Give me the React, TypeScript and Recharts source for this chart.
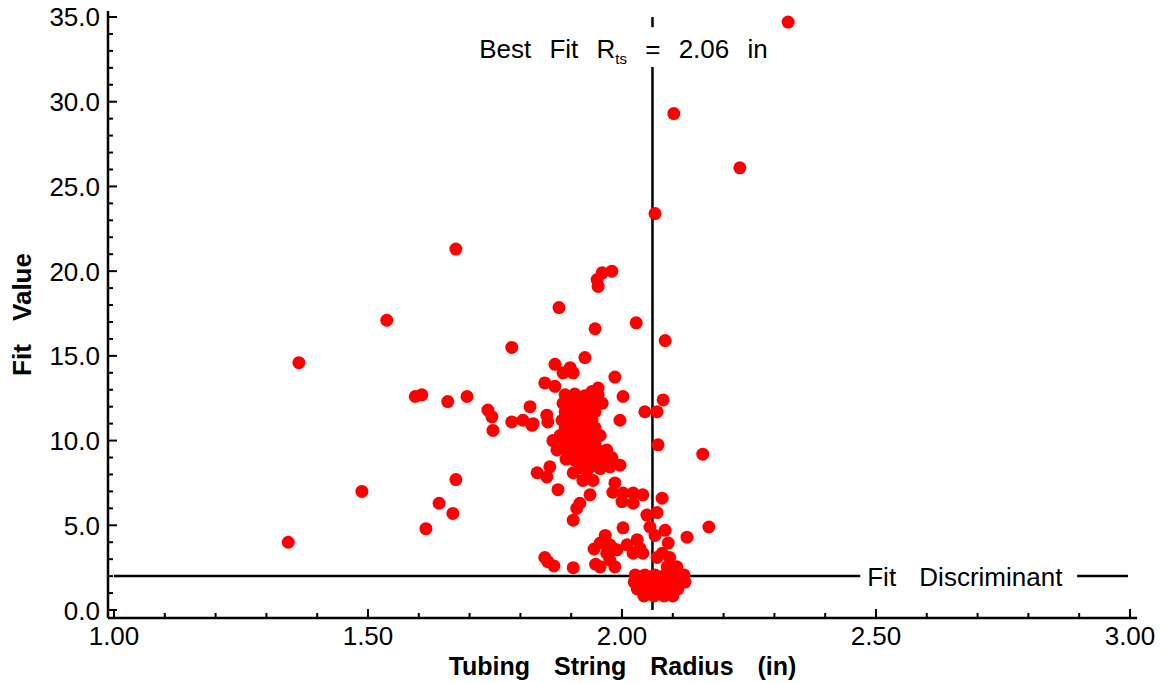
import React from 'react';
import { ScatterChart, Scatter, XAxis, YAxis, ReferenceLine } from 'recharts';

// ---------- axis ticks ----------
const xMajorTicks = [1.0, 1.5, 2.0, 2.5, 3.0];
const xTickLabels = ['1.00', '1.50', '2.00', '2.50', '3.00'];
const xMinorTicks = [1.1, 1.2, 1.3, 1.4, 1.6, 1.7, 1.8, 1.9, 2.1, 2.2, 2.3, 2.4, 2.6, 2.7, 2.8, 2.9];
const yMajorTicks = [0, 5, 10, 15, 20, 25, 30, 35];
const yTickLabels = ['0.0', '5.0', '10.0', '15.0', '20.0', '25.0', '30.0', '35.0'];
const yMinorTicks = [1, 2, 3, 4, 6, 7, 8, 9, 11, 12, 13, 14, 16, 17, 18, 19, 21, 22, 23, 24, 26, 27, 28, 29, 31, 32, 33, 34];

const xDomain: [number, number] = [0.9882, 3.0138];
const yDomain: [number, number] = [-0.472, 35.354];

// ---------- annotations ----------
const bestFitRadius = 2.06;
const fitDiscriminant = 2.0;
const bestFitLineLower: [number, number] = [0, 32.05];
const bestFitLineUpper: [number, number] = [34.4, 35.0];
const discriminantLineLeft: [number, number] = [1.0, 2.469];
const discriminantLineRight: [number, number] = [2.896, 2.996];

// ---------- data: [tubing string radius (in), fit value] ----------
const outlierPoints: [number, number][] = [
  [2.327, 34.7], [2.102, 29.3], [2.232, 26.1], [2.065, 23.4], [1.673, 21.3],
  [1.980, 20.0], [1.961, 19.9], [1.951, 19.5], [1.953, 19.1], [1.876, 17.85],
  [1.537, 17.1], [2.028, 16.95], [1.947, 16.6], [2.085, 15.9], [1.783, 15.5],
  [1.364, 14.6], [2.159, 9.2], [1.673, 7.7], [1.488, 7.0], [1.640, 6.3],
  [1.667, 5.7], [1.614, 4.8], [1.343, 4.0], [2.171, 4.9],
];

const leftMidPoints: [number, number][] = [
  [1.593, 12.6], [1.606, 12.7], [1.657, 12.3], [1.695, 12.6],
  [1.736, 11.8], [1.744, 11.4], [1.746, 10.6],
  [1.783, 11.1], [1.805, 11.2], [1.823, 10.9], [1.819, 12.0],
  [1.852, 11.5], [1.854, 11.1],
];

const upperClusterPoints: [number, number][] = [
  [1.927, 14.9], [1.868, 14.5], [1.898, 14.3], [1.904, 14.0], [1.884, 14.0],
  [1.848, 13.4], [1.868, 13.2], [1.986, 13.75], [1.953, 13.1], [1.941, 12.9],
  [2.002, 12.6], [2.081, 12.4], [2.045, 11.7], [2.069, 11.7], [1.996, 11.2],
  [1.825, 11.0], [1.864, 10.0], [1.872, 9.45], [1.980, 9.0], [1.970, 9.45],
  [1.996, 8.55], [1.858, 8.45], [2.071, 9.75],
];

const coreClusterPoints: [number, number][] = [
  [1.888, 12.7], [1.907, 12.75], [1.927, 12.65], [1.953, 12.7],
  [1.884, 12.2], [1.902, 12.25], [1.921, 12.15], [1.941, 12.2], [1.961, 12.2],
  [1.888, 11.7], [1.907, 11.65], [1.927, 11.75], [1.947, 11.7],
  [1.882, 11.2], [1.902, 11.25], [1.921, 11.15], [1.941, 11.2],
  [1.888, 10.75], [1.907, 10.7], [1.927, 10.8], [1.947, 10.75],
  [1.878, 10.3], [1.898, 10.25], [1.917, 10.3], [1.937, 10.35], [1.957, 10.3],
  [1.888, 9.8], [1.907, 9.85], [1.927, 9.75], [1.947, 9.8],
  [1.894, 9.35], [1.913, 9.3], [1.933, 9.4], [1.957, 9.35],
  [1.890, 8.9], [1.907, 8.85], [1.927, 8.8], [1.947, 8.9], [1.967, 8.85], [1.980, 8.9],
  [1.917, 8.4], [1.937, 8.45], [1.957, 8.35],
];

const midLowPoints: [number, number][] = [
  [1.833, 8.1], [1.852, 7.85], [1.931, 8.25], [1.904, 8.1], [1.923, 7.65],
  [1.943, 7.65], [1.957, 8.7], [1.976, 8.45], [1.874, 7.1], [1.937, 6.8],
  [1.917, 6.3], [1.911, 6.0], [1.904, 5.3], [1.986, 7.5], [1.982, 6.95],
  [2.002, 6.9], [2.000, 6.4], [2.022, 6.9], [2.041, 6.8], [2.022, 6.3],
  [2.079, 6.6], [2.049, 5.6], [2.055, 4.9], [2.069, 5.75], [2.002, 4.85],
];

const lowPoints: [number, number][] = [
  [1.967, 4.4], [1.957, 3.95], [1.976, 3.85], [1.990, 3.55], [1.970, 3.35],
  [2.010, 3.85], [2.030, 4.15], [2.035, 3.65], [1.848, 3.1], [1.854, 2.85],
  [1.866, 2.6], [1.904, 2.5], [1.980, 3.7], [1.976, 2.95], [1.957, 2.55],
  [1.986, 2.55], [2.022, 3.35], [2.041, 3.35], [1.945, 3.6], [1.948, 2.7],
  [2.085, 4.7], [2.091, 3.95], [2.079, 3.35], [2.094, 3.1], [2.089, 2.55],
  [2.108, 2.55], [2.128, 4.3], [2.065, 4.4], [2.069, 3.1],
];

const discriminantClusterPoints: [number, number][] = [
  [2.026, 2.07], [2.045, 2.07], [2.065, 2.07], [2.085, 2.07], [2.104, 2.07], [2.122, 2.07],
  [2.024, 1.65], [2.043, 1.65], [2.063, 1.65], [2.083, 1.65], [2.102, 1.65], [2.124, 1.65],
  [2.030, 1.24], [2.049, 1.24], [2.069, 1.24], [2.089, 1.24], [2.110, 1.24],
  [2.043, 0.83], [2.063, 0.83], [2.083, 0.83], [2.100, 0.83],
];

const allPoints = [
  ...outlierPoints,
  ...leftMidPoints,
  ...upperClusterPoints,
  ...coreClusterPoints,
  ...midLowPoints,
  ...lowPoints,
  ...discriminantClusterPoints,
].map(([r, f]) => ({ r, f }));

const xAllTicks = [...xMajorTicks, ...xMinorTicks].sort((a, b) => a - b);
const yAllTicks = [...yMajorTicks, ...yMinorTicks].sort((a, b) => a - b);

const FONT = '"Liberation Sans", Arial, Helvetica, sans-serif';
const majorIndex = (v: number, majors: number[]) => majors.findIndex((m) => Math.abs(m - v) < 1e-6);

const BottomTick = (props: any) => {
  const { x, y, payload } = props;
  const idx = majorIndex(payload.value, xMajorTicks);
  const major = idx >= 0;
  return (
    <g>
      <line x1={x} y1={y} x2={x} y2={y - (major ? 9 : 5)} stroke="#000" strokeWidth={2} />
      {major && (
        <text x={x} y={y + 27} textAnchor="middle" fontSize={26} fontFamily={FONT} fill="#000">
          {xTickLabels[idx]}
        </text>
      )}
    </g>
  );
};

const TopTick = (props: any) => {
  const { x, y, payload } = props;
  const major = majorIndex(payload.value, xMajorTicks) >= 0;
  return <line x1={x} y1={y} x2={x} y2={y + (major ? 9 : 5)} stroke="#000" strokeWidth={2} />;
};

const LeftTick = (props: any) => {
  const { x, y, payload } = props;
  const idx = majorIndex(payload.value, yMajorTicks);
  const major = idx >= 0;
  return (
    <g>
      <line x1={x} y1={y} x2={x + (major ? 9 : 5)} y2={y} stroke="#000" strokeWidth={2} />
      {major && (
        <text x={x - 8} y={y + 9.5} textAnchor="end" fontSize={26} fontFamily={FONT} fill="#000">
          {yTickLabels[idx]}
        </text>
      )}
    </g>
  );
};

const RightTick = (props: any) => {
  const { x, y, payload } = props;
  const major = majorIndex(payload.value, yMajorTicks) >= 0;
  return <line x1={x} y1={y} x2={x - (major ? 9 : 5)} y2={y} stroke="#000" strokeWidth={2} />;
};

const XTitle = (props: any) => {
  const vb = props.viewBox || {};
  return (
    <text
      x={vb.x + vb.width / 2}
      y={vb.y + 57}
      textAnchor="middle"
      fontSize={25}
      fontWeight="bold"
      fontFamily={FONT}
      fill="#000"
      style={{ wordSpacing: '17px' }}
    >
      Tubing String Radius (in)
    </text>
  );
};

const YTitle = (props: any) => {
  const vb = props.viewBox || {};
  const cx = 31;
  const cy = vb.y + vb.height / 2;
  return (
    <text
      x={cx}
      y={cy}
      transform={`rotate(-90 ${cx} ${cy})`}
      textAnchor="middle"
      fontSize={26}
      fontWeight="bold"
      fontFamily={FONT}
      fill="#000"
      style={{ wordSpacing: '16px' }}
    >
      Fit Value
    </text>
  );
};

const BestFitLabel = (props: any) => {
  const vb = props.viewBox || {};
  const x = vb.x - 29;
  const y = vb.y - 9;
  return (
    <text x={x} y={y} textAnchor="middle" fontSize={26} fontFamily={FONT} fill="#000" style={{ wordSpacing: '11px' }}>
      Best Fit R
      <tspan fontSize={15} dy={6}>ts</tspan>
      <tspan dy={-6}> = {bestFitRadius.toFixed(2)} in</tspan>
    </text>
  );
};

const DiscriminantLabel = (props: any) => {
  const vb = props.viewBox || {};
  return (
    <text
      x={vb.x + (vb.width || 0) + 7}
      y={vb.y + 9.5}
      textAnchor="start"
      fontSize={26}
      fontFamily={FONT}
      fill="#000"
      style={{ wordSpacing: '16px' }}
    >
      Fit Discriminant
    </text>
  );
};

const Dot = (props: any) => {
  const { cx, cy } = props;
  if (cx == null || cy == null) return <g />;
  return <circle cx={cx} cy={cy} r={6.5} fill="#ff0000" />;
};

export default function App() {
  return (
    <div style={{ position: 'absolute', left: 0, top: 0, width: 1164, height: 683, background: '#fff' }}>
      <ScatterChart width={1164} height={683} margin={{ top: 11, right: 27, bottom: 0, left: 0 }}>
        <XAxis
          xAxisId="b"
          type="number"
          dataKey="r"
          domain={xDomain}
          allowDataOverflow
          ticks={xAllTicks}
          interval={0}
          tickSize={0}
          tickMargin={0}
          height={65}
          axisLine={{ stroke: '#000', strokeWidth: 2.5 }}
          tickLine={false}
          tick={BottomTick}
          label={{ content: XTitle }}
        />
        <XAxis
          xAxisId="t"
          orientation="top"
          type="number"
          dataKey="r"
          domain={xDomain}
          allowDataOverflow
          ticks={xAllTicks}
          interval={0}
          tickSize={0}
          tickMargin={0}
          height={0}
          axisLine={{ stroke: '#000', strokeWidth: 2.5 }}
          tickLine={false}
          tick={TopTick}
        />
        <YAxis
          yAxisId="l"
          type="number"
          dataKey="f"
          domain={yDomain}
          allowDataOverflow
          ticks={yAllTicks}
          interval={0}
          tickSize={0}
          tickMargin={0}
          width={108}
          axisLine={{ stroke: '#000', strokeWidth: 2.5 }}
          tickLine={false}
          tick={LeftTick}
          label={{ content: YTitle }}
        />
        <YAxis
          yAxisId="r"
          orientation="right"
          type="number"
          dataKey="f"
          domain={yDomain}
          allowDataOverflow
          ticks={yAllTicks}
          interval={0}
          tickSize={0}
          tickMargin={0}
          width={0}
          axisLine={{ stroke: '#000', strokeWidth: 2.5 }}
          tickLine={false}
          tick={RightTick}
        />
        <Scatter data={allPoints} xAxisId="t" yAxisId="r" shape={() => <g />} isAnimationActive={false} legendType="none" />
        <Scatter data={allPoints} xAxisId="b" yAxisId="l" shape={Dot} isAnimationActive={false} />
        <ReferenceLine
          xAxisId="b"
          yAxisId="l"
          segment={[{ x: bestFitRadius, y: bestFitLineLower[0] }, { x: bestFitRadius, y: bestFitLineLower[1] }]}
          stroke="#000"
          strokeWidth={2.5}
          label={{ content: BestFitLabel }}
        />
        <ReferenceLine
          xAxisId="b"
          yAxisId="l"
          segment={[{ x: bestFitRadius, y: bestFitLineUpper[0] }, { x: bestFitRadius, y: bestFitLineUpper[1] }]}
          stroke="#000"
          strokeWidth={2.5}
        />
        <ReferenceLine
          xAxisId="b"
          yAxisId="l"
          segment={[{ x: discriminantLineLeft[0], y: fitDiscriminant }, { x: discriminantLineLeft[1], y: fitDiscriminant }]}
          stroke="#000"
          strokeWidth={2.5}
          label={{ content: DiscriminantLabel }}
        />
        <ReferenceLine
          xAxisId="b"
          yAxisId="l"
          segment={[{ x: discriminantLineRight[0], y: fitDiscriminant }, { x: discriminantLineRight[1], y: fitDiscriminant }]}
          stroke="#000"
          strokeWidth={2.5}
        />
      </ScatterChart>
    </div>
  );
}
